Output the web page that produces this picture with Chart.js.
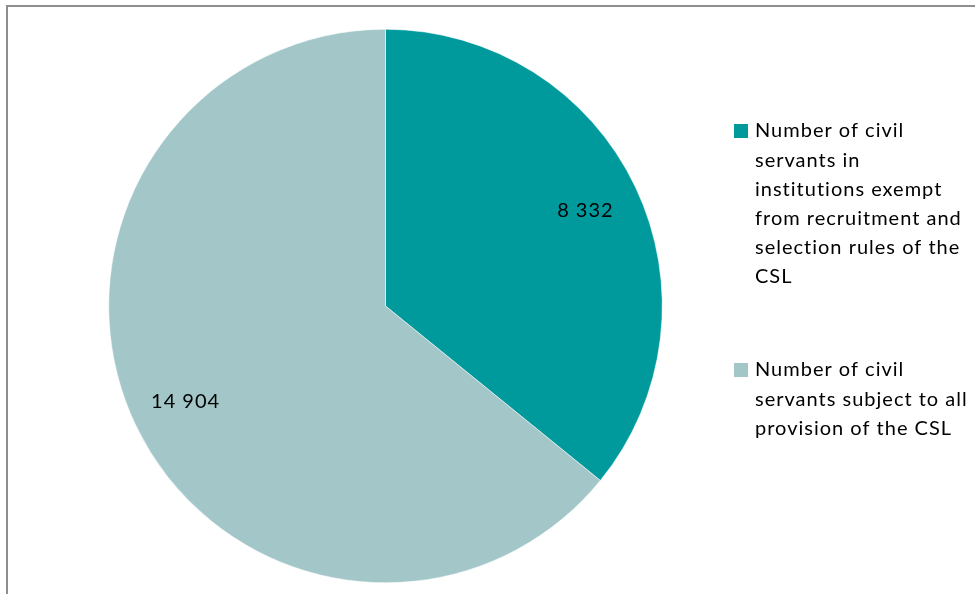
<!DOCTYPE html>
<html>
<head>
<meta charset="utf-8">
<script src="https://cdn.jsdelivr.net/npm/chart.js@4/dist/chart.umd.min.js"></script>
<style>
  html, body { margin: 0; padding: 0; background: #fff; }
  #wrap { position: relative; width: 975px; height: 594px; overflow: hidden; }
  #frame { position: absolute; left: 6px; top: 5px; width: 1200px; height: 800px; border: 2px solid #8e8e8e; box-sizing: border-box; }
  #c { position: absolute; left: 0; top: 0; }
</style>
</head>
<body>
<div id="wrap">
  <div id="frame"></div>
  <canvas id="c" width="975" height="594"></canvas>
</div>
<script>
// categories (legend text, already wrapped like the original)
var labels = [
    ["Number of civil", "servants in", "institutions exempt", "from recruitment and", "selection rules of the", "CSL"],
    ["Number of civil", "servants subject to all", "provision of the CSL"]
];
var values = [8332, 14904];
var sliceColors = ["#009a9c", "#a3c7c8"];

var FONT = "20px Lato, 'Open Sans', sans-serif";

function fmt(v) {
    return String(v).replace(/\B(?=(\d{3})+(?!\d))/g, " ");
}

// value labels inside the slices + legend on the right
var drawExtras = {
    id: "drawExtras",
    afterDraw: function(chart) {
        var ctx = chart.ctx;
        var meta = chart.getDatasetMeta(0);
        ctx.save();
        ctx.font = FONT;
        ctx.letterSpacing = "1px";
        ctx.fillStyle = "#000";
        ctx.textAlign = "center";
        ctx.textBaseline = "middle";
        meta.data.forEach(function(arc, i) {
            var p = arc.getProps(["x", "y", "startAngle", "endAngle", "outerRadius"], true);
            var mid = (p.startAngle + p.endAngle) / 2;
            var r = p.outerRadius * 0.8;
            ctx.fillText(fmt(values[i]), p.x + Math.cos(mid) * r, p.y + Math.sin(mid) * r);
        });

        // legend
        var tops = [131, 370];
        var lh = 29.2;
        ctx.textAlign = "left";
        labels.forEach(function(lines, i) {
            ctx.fillStyle = sliceColors[i];
            ctx.fillRect(734, tops[i] - 7, 14, 14);
            ctx.fillStyle = "#000";
            lines.forEach(function(t, j) {
                ctx.fillText(t, 755, tops[i] + j * lh);
            });
        });
        ctx.restore();
    }
};

new Chart("c", {
    type: "pie",
    data: {
        labels: labels.map(function(l) { return l.join(" "); }),
        datasets: [{
            data: values,
            backgroundColor: sliceColors,
            borderColor: "#ffffff",
            borderWidth: 0.5
        }]
    },
    options: {
        responsive: false,
        animation: false,
        layout: { padding: { left: 108, right: 312, top: 29, bottom: 11 } },
        plugins: {
            legend: { display: false },
            tooltip: { enabled: false }
        }
    },
    plugins: [drawExtras]
});
</script>
</body>
</html>
